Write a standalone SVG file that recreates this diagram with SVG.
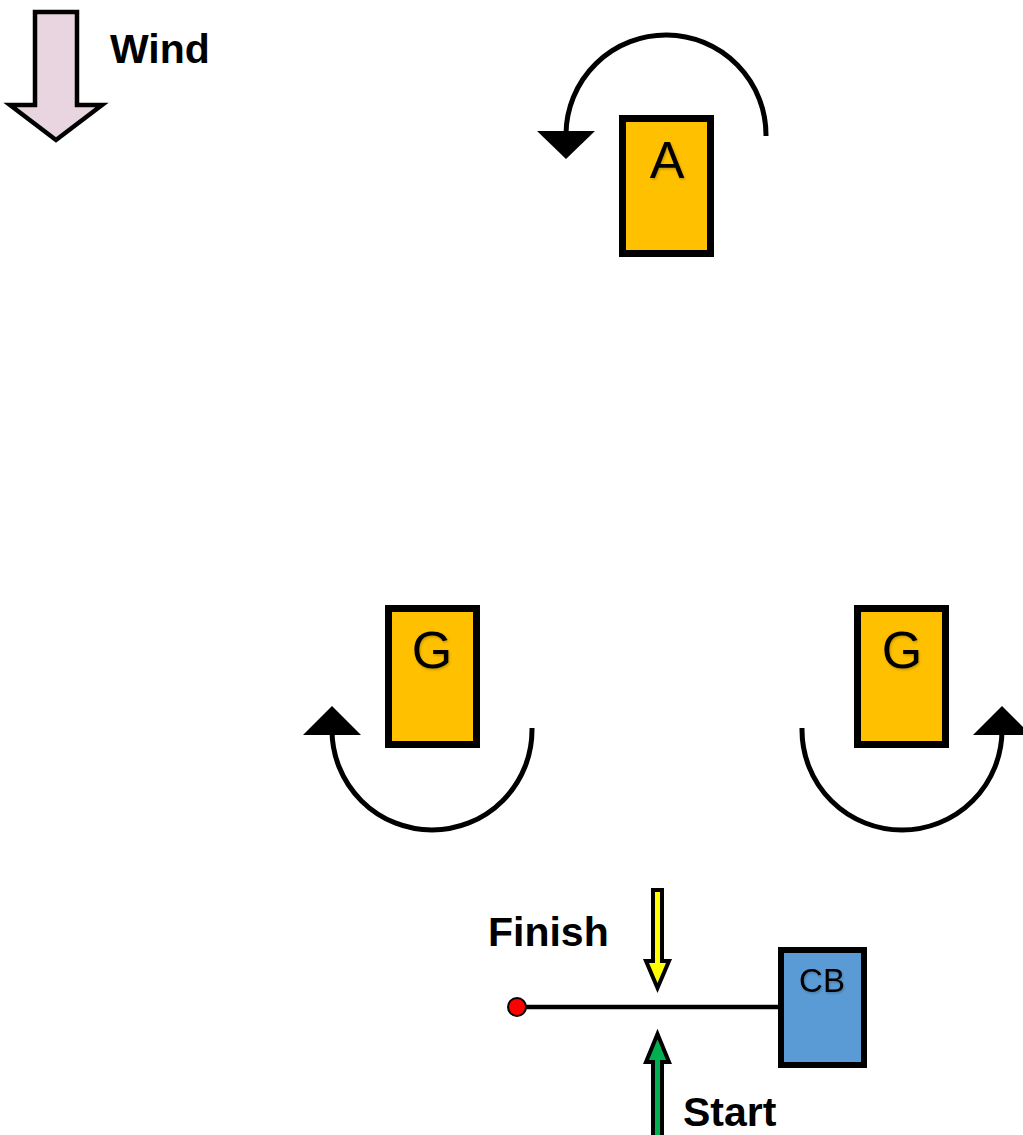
<svg xmlns="http://www.w3.org/2000/svg" width="1023" height="1135" viewBox="0 0 1023 1135">
<style>
.lbl{font-family:"Liberation Sans",Arial,sans-serif;font-weight:bold;font-size:41px;fill:#000}
.mk{fill:#FFC000;stroke:#000;stroke-width:7}
.mt{font-family:"Liberation Sans",Arial,sans-serif;font-size:52px;fill:#000;text-anchor:middle;filter:url(#sh)}
.arc{fill:none;stroke:#000;stroke-width:5}
.head{fill:#000}
</style>
<defs>
<filter id="sh" x="-20%" y="-20%" width="140%" height="140%">
<feDropShadow dx="1" dy="1.5" stdDeviation="1" flood-color="#000" flood-opacity="0.22"/>
</filter>
</defs>
<g id="wind">
<polygon points="35,12 77,12 77,105 102,105 56,140 10,105 35,105" fill="#E8D5E0" stroke="#000" stroke-width="4.5" stroke-linejoin="miter"/>
<text class="lbl" x="110" y="63">Wind</text>
</g>
<g id="markA">
<rect class="mk" x="622.5" y="118.5" width="88" height="135"/>
<text class="mt" x="667" y="178" font-size="56">A</text>
</g>
<g id="markG1">
<rect class="mk" x="388.5" y="608.5" width="88" height="136"/>
<text class="mt" x="432" y="668">G</text>
</g>
<g id="markG2">
<rect class="mk" x="857.5" y="608.5" width="88" height="136"/>
<text class="mt" x="902" y="668">G</text>
</g>
<g id="committee">
<rect x="781" y="950" width="83" height="115" fill="#5B9BD5" stroke="#000" stroke-width="6"/>
<text x="822" y="992" font-family="'Liberation Sans',Arial,sans-serif" font-size="33" text-anchor="middle" fill="#000" filter="url(#sh)">CB</text>
</g>
<g id="pin">
<circle cx="517" cy="1007" r="9" fill="#FF0000" stroke="#000" stroke-width="2"/>
</g>
<g id="finish">
<polygon points="653,890 662,890 662,961 669,961 657.5,988 646,961 653,961" fill="#FFFF00" stroke="#000" stroke-width="4"/>
<text class="lbl" x="488" y="946">Finish</text>
</g>
<g id="start">
<polygon points="653,1138 662,1138 662,1062 669,1062 657.5,1034 646,1062 653,1062" fill="#00B050" stroke="#000" stroke-width="4"/>
<text class="lbl" x="683" y="1126">Start</text>
</g>
<g id="connectors">
<line x1="526" y1="1007" x2="781" y2="1007" stroke="#000" stroke-width="4.5"/>
<path class="arc" d="M766,136 A100,100 0 0 0 566,134 L566,132"/>
<polygon class="head" points="537,131 595,131 566,159"/>
<path class="arc" d="M532,728 L532,730 A100,100 0 0 1 332,730 L332,734"/>
<polygon class="head" points="303,735 361,735 332,706"/>
<path class="arc" d="M802,728 L802,730 A100,100 0 0 0 1002,730 L1002,734"/>
<polygon class="head" points="973,735 1031,735 1002,706"/>
</g>
</svg>
